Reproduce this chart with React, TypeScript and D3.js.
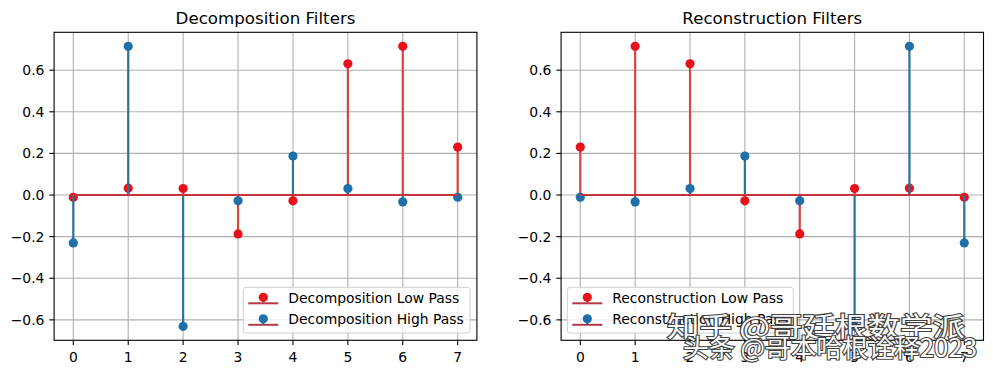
import React from 'react';
import * as d3 from 'd3';

// db4 filter coefficients
const taps = [0, 1, 2, 3, 4, 5, 6, 7];
const decLow = [-0.0106, 0.0329, 0.0308, -0.187, -0.028, 0.6309, 0.7148, 0.2304];
const decHigh = [-0.2304, 0.7148, -0.6309, -0.028, 0.187, 0.0308, -0.0329, -0.0106];
const recLow = [0.2304, 0.7148, 0.6309, -0.028, -0.187, 0.0308, 0.0329, -0.0106];
const recHigh = [-0.0106, -0.0329, 0.0308, 0.187, -0.028, -0.6309, 0.7148, -0.2304];
const yTicks = [-0.6, -0.4, -0.2, 0.0, 0.2, 0.4, 0.6];

const W = 993;
const H = 374;
const top = 32.3;
const bottom = 340.3;
const font = 'DejaVu Sans, sans-serif';
const fs = 13.9;

const RED = '#e8101a';
const RED_STEM = '#dc4242';
const BLUE = '#1f6fa8';
const BLUE_STEM = '#2b7296';
const BASE = '#c8323c';

const fmt = (v: number) => {
  const s = Math.abs(v).toFixed(1);
  return v < -1e-9 ? '\u2212' + s : s;
};

function Panel({ left, right, title, low, high, lowLabel, highLabel, legendX, legendW }: any) {
  const all = [...low, ...high];
  const lo = d3.min(all) as number;
  const hi = d3.max(all) as number;
  const pad = (hi - lo) * 0.05;
  const x = d3.scaleLinear().domain([-0.35, 7.35]).range([left, right]);
  const y = d3.scaleLinear().domain([lo - pad, hi + pad]).range([bottom, top]);
  const y0 = y(0);

  const stems = (vals: number[], stroke: string, fill: string, key: string) => (
    <g key={key}>
      {vals.map((v, i) => (
        <line key={'s' + i} x1={x(taps[i])} x2={x(taps[i])} y1={y0} y2={y(v)} stroke={stroke} strokeWidth={2.2} />
      ))}
      {vals.map((v, i) => (
        <circle key={'m' + i} cx={x(taps[i])} cy={y(v)} r={4.6} fill={fill} />
      ))}
      <line x1={x(0)} x2={x(7)} y1={y0} y2={y0} stroke={BASE} strokeWidth={2} />
    </g>
  );

  const legendTop = 287.3;
  const rows = [
    { label: lowLabel, color: RED },
    { label: highLabel, color: BLUE },
  ];

  return (
    <g>
      <rect x={left} y={top} width={right - left} height={bottom - top} fill="#fff" />
      {/* grid */}
      {taps.map((t) => (
        <line key={'gx' + t} x1={x(t)} x2={x(t)} y1={top} y2={bottom} stroke="#b0b0b0" strokeWidth={1.1} />
      ))}
      {yTicks.map((t) => (
        <line key={'gy' + t} x1={left} x2={right} y1={y(t)} y2={y(t)} stroke="#b0b0b0" strokeWidth={1.1} />
      ))}
      {stems(low, RED_STEM, RED, 'low')}
      {stems(high, BLUE_STEM, BLUE, 'high')}
      {/* spines */}
      <rect x={left} y={top} width={right - left} height={bottom - top} fill="none" stroke="#000" strokeWidth={1.1} />
      {/* x ticks */}
      {taps.map((t) => (
        <g key={'tx' + t}>
          <line x1={x(t)} x2={x(t)} y1={bottom} y2={bottom + 4.8} stroke="#000" strokeWidth={1.1} />
          <text x={x(t)} y={361.8} textAnchor="middle" fontSize={fs} fontFamily={font} fill="#000">
            {t}
          </text>
        </g>
      ))}
      {/* y ticks */}
      {yTicks.map((t) => (
        <g key={'ty' + t}>
          <line x1={left - 4.8} x2={left} y1={y(t)} y2={y(t)} stroke="#000" strokeWidth={1.1} />
          <text x={left - 9.7} y={y(t)} dy="0.36em" textAnchor="end" fontSize={fs} fontFamily={font} fill="#000">
            {fmt(t)}
          </text>
        </g>
      ))}
      <text x={(left + right) / 2} y={24} textAnchor="middle" fontSize={16.67} fontFamily={font} fill="#000">
        {title}
      </text>
      {/* legend */}
      <rect x={legendX} y={legendTop} width={legendW} height={45.7} rx={3} fill="#fff" fillOpacity={0.8} stroke="#d0d0d0" strokeWidth={1} />
      {rows.map((r, i) => {
        const cy = legendTop + 10 + i * 21.5;
        return (
          <g key={'lg' + i}>
            <line x1={legendX + 5} x2={legendX + 35} y1={cy + 6} y2={cy + 6} stroke="#b03a4a" strokeWidth={2} />
            <line x1={legendX + 20} x2={legendX + 20} y1={cy} y2={cy + 6} stroke={i === 0 ? RED_STEM : BLUE_STEM} strokeWidth={2} />
            <circle cx={legendX + 20} cy={cy} r={4.6} fill={r.color} />
            <text x={legendX + 45} y={cy + 5.5} fontSize={fs} fontFamily={font} fill="#000">
              {r.label}
            </text>
          </g>
        );
      })}
    </g>
  );
}

export default function App() {
  return (
    <svg width={W} height={H} style={{ position: 'absolute', left: 0, top: 0, background: '#fff' }}>
      <rect width={W} height={H} fill="#fff" />
      <Panel
        left={54.1}
        right={476.9}
        title="Decomposition Filters"
        low={decLow}
        high={decHigh}
        lowLabel="Decomposition Low Pass"
        highLabel="Decomposition High Pass"
        legendX={243.3}
        legendW={226.7}
      />
      <Panel
        left={561.1}
        right={983.5}
        title="Reconstruction Filters"
        low={recLow}
        high={recHigh}
        lowLabel="Reconstruction Low Pass"
        highLabel="Reconstruction High Pass"
        legendX={567.3}
        legendW={226}
      />
      {/* watermark */}
      <g fontFamily="Noto Sans CJK SC, sans-serif" fill="#fff" stroke="#333" strokeWidth={2.2} style={{ paintOrder: 'stroke' }} opacity={0.92}>
        <text x={667} y={337} fontSize={27} textLength={298} lengthAdjust="spacingAndGlyphs">
          知乎 @哥廷根数学派
        </text>
        <text x={683} y={357} fontSize={25} textLength={294} lengthAdjust="spacingAndGlyphs">
          头条 @哥本哈根诠释2023
        </text>
      </g>
    </svg>
  );
}
